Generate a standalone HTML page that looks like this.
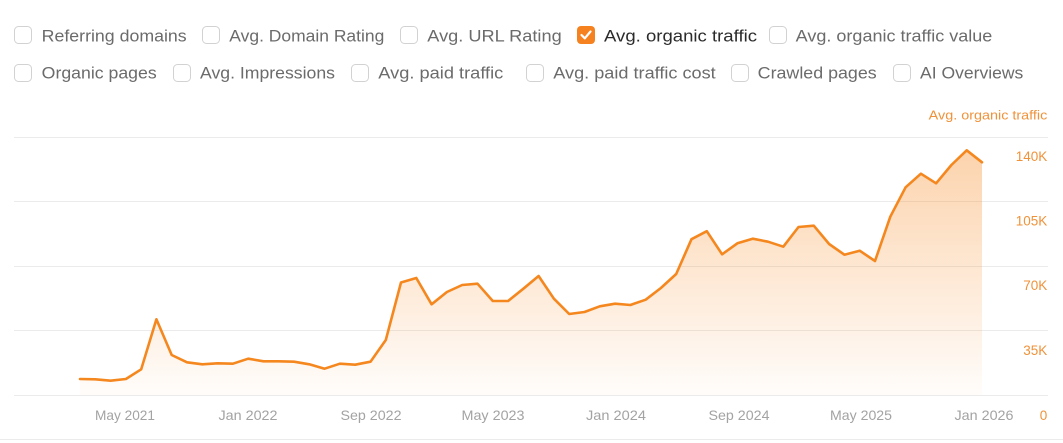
<!DOCTYPE html>
<html><head><meta charset="utf-8"><style>
html,body{margin:0;padding:0;background:#fff;}
svg{display:block;}
</style></head><body>
<svg width="1063" height="443" viewBox="0 0 1063 443" xmlns="http://www.w3.org/2000/svg" font-family="'Liberation Sans', sans-serif">
<defs>
<linearGradient id="g" x1="0" y1="137" x2="0" y2="395" gradientUnits="userSpaceOnUse">
<stop offset="0" stop-color="#f7861c" stop-opacity="0.38"/>
<stop offset="1" stop-color="#f7861c" stop-opacity="0.02"/>
</linearGradient>
</defs>
<rect width="1063" height="443" fill="#fff"/>
<g fill="#fff" stroke="#d2d2d2" stroke-width="1">
<rect x="14.5" y="26.5" width="17" height="17" rx="4"/>
<rect x="202.5" y="26.5" width="17" height="17" rx="4"/>
<rect x="400.5" y="26.5" width="17" height="17" rx="4"/>
<rect x="769.5" y="26.5" width="17" height="17" rx="4"/>
<rect x="14.5" y="64.5" width="17" height="17" rx="4"/>
<rect x="173.5" y="64.5" width="17" height="17" rx="4"/>
<rect x="351.5" y="64.5" width="17" height="17" rx="4"/>
<rect x="526.5" y="64.5" width="17" height="17" rx="4"/>
<rect x="731.5" y="64.5" width="17" height="17" rx="4"/>
<rect x="893.5" y="64.5" width="17" height="17" rx="4"/>
</g>
<rect x="577" y="26" width="18" height="18" rx="4" fill="#f5821f"/>
<path d="M581.5 35 L584.8 38.3 L590.5 31.5" fill="none" stroke="#fff" stroke-width="2.2" stroke-linecap="round" stroke-linejoin="round"/>
<g font-size="17" fill="#6b6b6b">
<text x="41.7" y="41.5" textLength="145" lengthAdjust="spacingAndGlyphs">Referring domains</text>
<text x="229.3" y="41.5" textLength="155" lengthAdjust="spacingAndGlyphs">Avg. Domain Rating</text>
<text x="427.3" y="41.5" textLength="134.4" lengthAdjust="spacingAndGlyphs">Avg. URL Rating</text>
<text x="604" y="41.5" textLength="153" lengthAdjust="spacingAndGlyphs" fill="#2b2b2b">Avg. organic traffic</text>
<text x="795.7" y="41.5" textLength="196.6" lengthAdjust="spacingAndGlyphs">Avg. organic traffic value</text>
<text x="41.7" y="78.5" textLength="115" lengthAdjust="spacingAndGlyphs">Organic pages</text>
<text x="200" y="78.5" textLength="135" lengthAdjust="spacingAndGlyphs">Avg. Impressions</text>
<text x="378.3" y="78.5" textLength="125" lengthAdjust="spacingAndGlyphs">Avg. paid traffic</text>
<text x="553.3" y="78.5" textLength="162.4" lengthAdjust="spacingAndGlyphs">Avg. paid traffic cost</text>
<text x="757.7" y="78.5" textLength="119" lengthAdjust="spacingAndGlyphs">Crawled pages</text>
<text x="920" y="78.5" textLength="103.3" lengthAdjust="spacingAndGlyphs">AI Overviews</text>
</g>
<text x="1047.3" y="119.5" font-size="13" fill="#f0923a" text-anchor="end" textLength="118.6" lengthAdjust="spacingAndGlyphs">Avg. organic traffic</text>
<g stroke="#ebebeb" stroke-width="1">
<line x1="14" y1="137.5" x2="1048" y2="137.5"/>
<line x1="14" y1="201.5" x2="1048" y2="201.5"/>
<line x1="14" y1="266.5" x2="1048" y2="266.5"/>
<line x1="14" y1="330.5" x2="1048" y2="330.5"/>
<line x1="14" y1="395.5" x2="1048" y2="395.5"/>
<line x1="0" y1="439.5" x2="1063" y2="439.5"/>
</g>
<path fill="url(#g)" d="M80 379 L95.3 379.3 L110.6 380.7 L125.9 379 L141.2 369.3 L156.4 319.3 L171.7 355 L187 362.3 L202.3 364.3 L217.6 363.3 L232.9 363.7 L248.2 358.7 L263.5 361.3 L278.7 361.3 L294 361.7 L309.3 364.3 L324.6 368.7 L339.9 363.7 L355.2 364.7 L370.5 361.7 L385.8 340 L401 282.5 L416.3 278 L431.6 304.3 L446.9 292 L462.2 285 L477.5 283.7 L492.8 301 L508.1 301 L523.4 288.7 L538.6 276 L553.9 298.7 L569.2 314 L584.5 312 L599.8 306.3 L615.1 303.7 L630.4 305 L645.7 299.7 L660.9 288 L676.2 274 L691.5 239.2 L706.8 231.2 L722.1 254.3 L737.4 243.3 L752.7 238.7 L768 241.7 L783.3 246.7 L798.5 227 L813.8 225.7 L829.1 244 L844.4 254.7 L859.7 250.7 L875 261 L890.3 216.7 L905.6 187.3 L920.9 173.7 L936.1 183.3 L951.4 165 L966.7 150.3 L982 162.3 L982 395 L80 395 Z"/>
<path fill="none" stroke="#f5871f" stroke-width="2.6" stroke-linejoin="round" stroke-linecap="round" d="M80 379 L95.3 379.3 L110.6 380.7 L125.9 379 L141.2 369.3 L156.4 319.3 L171.7 355 L187 362.3 L202.3 364.3 L217.6 363.3 L232.9 363.7 L248.2 358.7 L263.5 361.3 L278.7 361.3 L294 361.7 L309.3 364.3 L324.6 368.7 L339.9 363.7 L355.2 364.7 L370.5 361.7 L385.8 340 L401 282.5 L416.3 278 L431.6 304.3 L446.9 292 L462.2 285 L477.5 283.7 L492.8 301 L508.1 301 L523.4 288.7 L538.6 276 L553.9 298.7 L569.2 314 L584.5 312 L599.8 306.3 L615.1 303.7 L630.4 305 L645.7 299.7 L660.9 288 L676.2 274 L691.5 239.2 L706.8 231.2 L722.1 254.3 L737.4 243.3 L752.7 238.7 L768 241.7 L783.3 246.7 L798.5 227 L813.8 225.7 L829.1 244 L844.4 254.7 L859.7 250.7 L875 261 L890.3 216.7 L905.6 187.3 L920.9 173.7 L936.1 183.3 L951.4 165 L966.7 150.3 L982 162.3"/>
<g font-size="13.5" fill="#f0923a" text-anchor="end">
<text x="1047.3" y="160.8">140K</text>
<text x="1047.3" y="225.3">105K</text>
<text x="1047.3" y="289.8">70K</text>
<text x="1047.3" y="354.8">35K</text>
<text x="1047.3" y="419.8">0</text>
</g>
<g font-size="14" fill="#a3a3a3" text-anchor="middle">
<text x="125" y="420" textLength="60" lengthAdjust="spacingAndGlyphs">May 2021</text>
<text x="248" y="420" textLength="59" lengthAdjust="spacingAndGlyphs">Jan 2022</text>
<text x="371" y="420" textLength="61" lengthAdjust="spacingAndGlyphs">Sep 2022</text>
<text x="493" y="420" textLength="63" lengthAdjust="spacingAndGlyphs">May 2023</text>
<text x="616" y="420" textLength="60" lengthAdjust="spacingAndGlyphs">Jan 2024</text>
<text x="739" y="420" textLength="61" lengthAdjust="spacingAndGlyphs">Sep 2024</text>
<text x="861" y="420" textLength="62" lengthAdjust="spacingAndGlyphs">May 2025</text>
<text x="984" y="420" textLength="59" lengthAdjust="spacingAndGlyphs">Jan 2026</text>
</g>
</svg>
</body></html>
